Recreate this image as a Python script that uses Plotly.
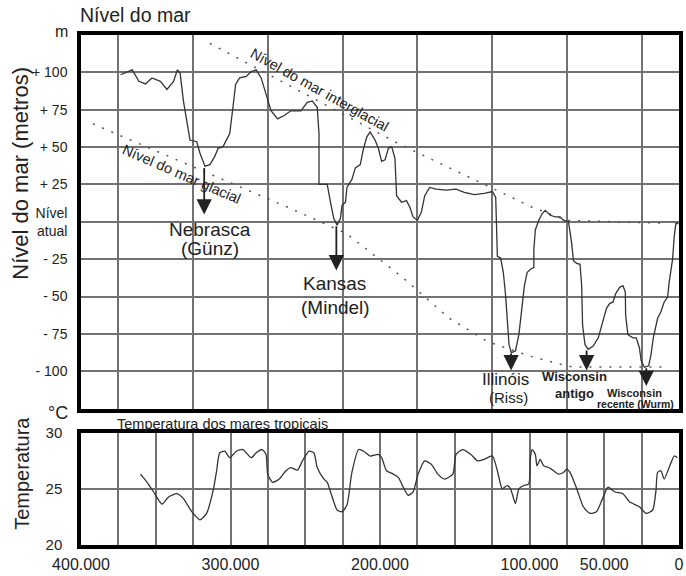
import plotly.graph_objects as go

# ---------------- data (x in thousands of years before present) ----------------
sea_ka = [373.5, 365.7, 361.3, 356.9, 352.5, 346.9, 342.5, 338.1, 335.5, 333.7, 331.5, 329.2,
          327.1, 322.6, 320.4, 317.1, 313.8, 310.5, 308.3, 305.0, 300.5, 298.5, 296.6, 293.9,
          289.5, 286.1, 282.8, 279.5, 276.2, 272.9, 268.5, 264.1, 259.6, 253.0, 248.6, 245.3,
          242.0, 240.8, 240.8, 235.3, 233.1, 230.9, 228.7, 226.5, 225.4, 223.1, 222.1, 218.8,
          216.5, 213.2, 211.0, 208.8, 206.6, 203.3, 201.1, 198.9, 196.6, 194.4, 192.2, 190.0,
          188.9, 185.6, 182.3, 180.0, 177.9, 175.0, 172.3, 170.1, 166.8, 162.4, 155.8, 149.1,
          143.6, 136.9, 130.3, 124.8, 122.6, 122.0, 121.5, 119.3, 117.5, 116.0, 114.9, 113.7,
          112.2, 109.4, 107.1, 104.9, 103.4, 101.6, 99.4, 97.1, 97.1, 96.1, 93.8, 91.6, 89.5,
          86.1, 82.8, 79.5, 77.3, 73.9, 71.8, 70.6, 68.4, 66.2, 65.1, 64.5, 62.9, 60.7, 57.4,
          54.0, 50.7, 48.5, 46.4, 44.1, 42.4, 39.7, 37.5, 35.9, 35.7, 34.2, 30.8, 28.6, 26.5,
          25.3, 23.1, 20.3, 18.7, 17.2, 14.3, 12.1, 9.9, 7.6, 6.6, 4.3, 3.2, 2.1, 0.4]
sea_m = [98.4, 101.7, 94.0, 92.3, 96.3, 94.0, 88.6, 94.0, 101.7, 99.5, 80.9, 67.8,
         54.7, 53.6, 45.9, 37.2, 38.3, 43.8, 49.2, 50.3, 59.1, 75.5, 91.9, 96.3,
         97.3, 100.6, 101.7, 96.3, 85.3, 74.3, 68.9, 71.1, 74.3, 74.3, 79.9, 80.9,
         76.6, 59.1, 25.1, 25.1, 13.1, 2.2, -2.2, 2.2, 11.0, 13.1, 23.0, 28.4,
         36.1, 38.3, 49.2, 56.9, 60.2, 54.7, 49.2, 40.5, 41.5, 49.2, 50.3, 42.7,
         17.5, 13.1, 14.2, 9.8, 3.3, 1.1, 6.6, 17.5, 23.0, 21.9, 21.2, 21.9,
         19.7, 18.2, 19.0, 20.3, 16.4, -1.1, -23.0, -24.1, -33.9, -49.2, -66.7, -82.0,
         -87.5, -86.4, -75.5, -57.9, -42.7, -33.9, -31.7, -30.6, -18.6, -5.4, 1.1, 5.4, 7.7,
         4.4, 3.3, 3.3, 1.1, 0.0, -14.2, -26.2, -27.8, -28.4, -42.7, -68.9, -82.0, -85.3, -83.1,
         -77.6, -66.7, -57.9, -54.7, -53.6, -48.1, -43.8, -42.7, -47.0, -62.3, -75.5, -77.6, -77.6, -84.2,
         -93.0, -97.3, -96.3, -88.6, -77.6, -64.5, -60.2, -53.6, -50.3, -40.5, -25.1, -9.8, -1.1, -1.1]

temp_ka = [360.2, 355.8, 351.4, 345.8, 341.4, 335.9, 331.5, 325.9, 320.4, 316.0, 311.6, 309.3,
           307.2, 303.8, 300.5, 296.1, 291.7, 286.1, 282.8, 278.8, 276.2, 275.1, 271.8, 267.4,
           262.9, 259.6, 255.2, 251.9, 247.5, 244.2, 242.0, 237.5, 235.3, 232.0, 228.7, 225.4,
           222.1, 218.8, 214.3, 211.0, 206.6, 201.1, 198.9, 195.6, 191.1, 187.8, 184.5, 181.2,
           177.9, 174.5, 170.1, 165.7, 161.3, 156.8, 151.3, 149.1, 144.7, 139.2, 134.7, 130.3,
           124.8, 121.5, 118.2, 114.9, 112.7, 109.4, 107.1, 103.8, 100.5, 99.4, 98.3, 96.1,
           95.0, 92.8, 90.5, 87.2, 83.9, 80.6, 77.3, 75.1, 72.9, 68.4, 64.0, 59.6,
           55.2, 50.7, 47.4, 43.0, 37.5, 33.1, 26.5, 22.0, 17.6, 15.4, 14.3, 12.1,
           9.9, 6.6, 3.2, 1.0]
temp_c = [26.34, 25.61, 24.74, 23.66, 24.30, 24.59, 24.15, 22.98, 22.25, 22.83, 24.89, 26.64,
          28.25, 28.39, 27.81, 28.39, 28.54, 27.81, 28.25, 28.54, 28.10, 26.34, 25.61, 25.90,
          26.64, 26.93, 26.69, 27.52, 28.39, 28.25, 26.93, 25.90, 25.61, 24.30, 23.13, 22.98,
          23.57, 26.49, 28.54, 28.39, 27.96, 28.10, 27.81, 26.64, 26.34, 26.05, 25.18, 24.45,
          24.74, 26.34, 27.52, 27.22, 26.34, 25.90, 26.34, 28.10, 28.54, 28.10, 27.52, 27.66,
          27.96, 26.64, 25.03, 25.32, 25.03, 23.71, 25.03, 25.32, 25.46, 27.81, 28.54, 28.10,
          27.08, 27.66, 27.08, 26.93, 26.64, 26.34, 26.49, 26.78, 26.49, 25.03, 23.42, 22.83,
          22.98, 24.30, 25.18, 24.74, 24.59, 23.86, 23.42, 22.83, 23.13, 24.89, 26.49, 26.64,
          25.90, 26.93, 27.96, 27.81]

interglacial_ka = [313.8, 189.1, 98.3, 75.0, 8.0]
interglacial_m = [119.4, 53.1, 9.8, 1.0, -1.0]
glacial_ka = [392.0, 380.1, 258.8, 222.3, 183.8, 154.0, 128.1, 99.6, 79.7, 71.1, 8.8]
glacial_m = [65.6, 60.4, 8.5, -7.9, -38.1, -64.3, -80.1, -89.9, -95.1, -97.1, -97.1]

# glaciation minima: arrow from trough down to tip
arrow_ka = [317.6, 229.2, 112.3, 61.8, 21.9]
arrow_from_m = [37.0, -2.0, -87.0, -85.0, -97.0]
arrow_to_m = [4.9, -32.5, -99.4, -99.4, -109.9]

x_tick_vals = [400, 300, 200, 100, 50, 0]
x_tick_text = ["400.000", "300.000", "200.000", "100.000", "50.000", "0"]
sea_tick_vals = [100, 75, 50, 25, 0, -25, -50, -75, -100]
sea_tick_text = ["+ 100", "+ 75", "+ 50", "+ 25", "Nível<br>atual", "- 25", "- 50", "- 75", "- 100"]
temp_tick_vals = [20, 25, 30]
temp_tick_text = ["20", "25", "30"]

FONT = "Liberation Sans, Arial, sans-serif"
GRID = "#727272"
CURVE = "#333333"

fig = go.Figure()

fig.add_trace(go.Scatter(x=interglacial_ka, y=interglacial_m, mode="lines",
                         line=dict(color="#555555", width=1.5, dash="2px,8px"),
                         hoverinfo="skip", xaxis="x", yaxis="y"))
fig.add_trace(go.Scatter(x=glacial_ka, y=glacial_m, mode="lines",
                         line=dict(color="#555555", width=1.5, dash="2px,8px"),
                         hoverinfo="skip", xaxis="x", yaxis="y"))
fig.add_trace(go.Scatter(x=sea_ka, y=sea_m, mode="lines",
                         line=dict(color=CURVE, width=1.3),
                         hoverinfo="skip", xaxis="x", yaxis="y"))
fig.add_trace(go.Scatter(x=temp_ka, y=temp_c, mode="lines",
                         line=dict(color=CURVE, width=1.3, shape="spline", smoothing=0.6),
                         hoverinfo="skip", xaxis="x2", yaxis="y2"))

frame = dict(showline=True, mirror=True, linecolor="black", linewidth=3.5, zeroline=False)
minor_grid = dict(tick0=0, dtick=25, showgrid=True, gridcolor=GRID, gridwidth=1.6)

annotations = []
# arrows
for ka, m0, m1 in zip(arrow_ka, arrow_from_m, arrow_to_m):
    annotations.append(dict(x=ka, y=m1, ax=ka, ay=m0, xref="x", yref="y", axref="x", ayref="y",
                            text="", showarrow=True, arrowhead=2, arrowsize=1.7, arrowwidth=1.8,
                            arrowcolor="#222"))

def lab(text, x, y, size, bold=False, ref=("x", "y"), **kw):
    t = f"<b>{text}</b>" if bold else text
    d = dict(x=x, y=y, xref=ref[0], yref=ref[1], text=t, showarrow=False,
             xanchor="center", yanchor="middle",
             font=dict(family=FONT, size=size, color="#222"))
    d.update(kw)
    annotations.append(d)

lab("Nebrasca", 314, -4.8, 19)
lab("(Günz)", 314, -17.7, 19)
lab("Kansas", 230.2, -41.3, 19)
lab("(Mindel)", 229.6, -57.1, 19)
lab("Illinóis", 116.2, -105.3, 17)
lab("(Riss)", 114.2, -117.6, 15)
lab("Wisconsin", 69.8, -103.7, 13, bold=True)
lab("antigo", 69.8, -114.8, 13, bold=True)
lab("Wisconsin", 30.0, -114.8, 11, bold=True)
lab("recente (Wurm)", 29.3, -121.8, 10.5, bold=True)
lab("Nível do mar interglacial", 240.2, 88.5, 14.5, textangle=29)
lab("Nível do mar glacial", 332.9, 32.0, 14.5, textangle=23.5)

# titles / units (paper coords)
lab("Nível do mar", -0.005, 1.0385, 19.5, ref=("paper", "paper"), xanchor="left")
lab("m", -0.0332, 1.0077, 16, ref=("paper", "paper"))
lab("°C", -0.0385, 0.2585, 18, ref=("paper", "paper"))
lab("Temperatura dos mares tropicais", 0.0565, 0.2365, 14.5, ref=("paper", "paper"),
    xanchor="left")
lab("Nível do mar (metros)", -0.1013, 0.7288, 22, ref=("paper", "paper"), textangle=-90)
lab("Temperatura", -0.0980, 0.1404, 20, ref=("paper", "paper"), textangle=-90)

fig.update_layout(
    width=686, height=576,
    margin=dict(l=81, r=3, t=35, b=21),
    paper_bgcolor="white", plot_bgcolor="white",
    showlegend=False,
    font=dict(family=FONT, color="#222"),
    xaxis=dict(domain=[0, 1], range=[400, 0], anchor="y", showticklabels=False, ticks="",
               showgrid=False, minor=minor_grid, **frame),
    xaxis2=dict(domain=[0, 1], range=[400, 0], anchor="y2", tickmode="array",
                tickvals=x_tick_vals, ticktext=x_tick_text, ticks="",
                tickfont=dict(family=FONT, size=16, color="#222"), ticklabelstandoff=2,
                showgrid=False, minor=minor_grid, **frame),
    yaxis=dict(domain=[0.2673, 1], range=[-125, 125], anchor="x", tickmode="array",
               tickvals=sea_tick_vals, ticktext=sea_tick_text, ticks="",
               tickfont=dict(family=FONT, size=14, color="#222"), ticklabelstandoff=7,
               showgrid=True, gridcolor=GRID, gridwidth=1.6, **frame),
    yaxis2=dict(domain=[0, 0.2192], range=[20, 30], anchor="x2", tickmode="array",
                tickvals=temp_tick_vals, ticktext=temp_tick_text, ticks="",
                tickfont=dict(family=FONT, size=15, color="#222"), ticklabelstandoff=12,
                showgrid=True, gridcolor=GRID, gridwidth=1.6, **frame),
    annotations=annotations,
)

fig.write_html("out.html")
